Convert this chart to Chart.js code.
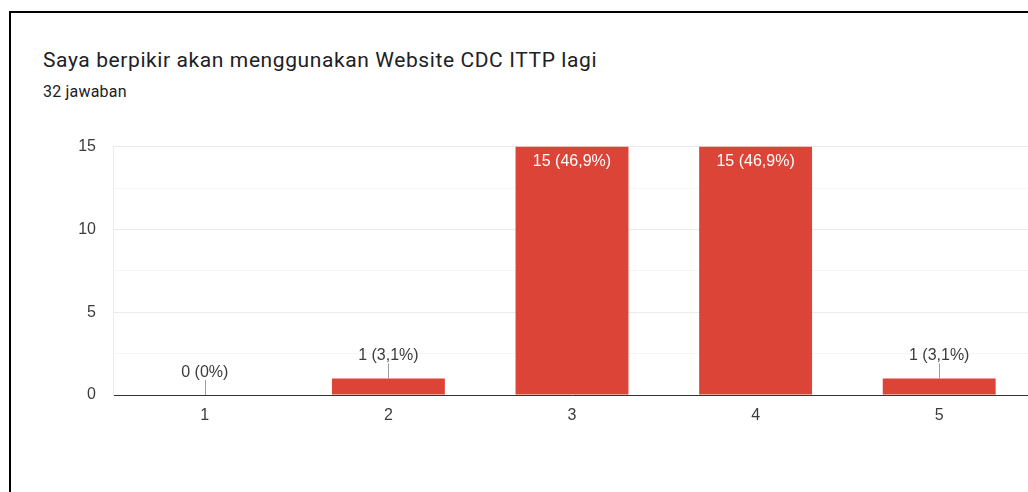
<!DOCTYPE html>
<html>
<head>
<meta charset="utf-8">
<script src="https://cdn.jsdelivr.net/npm/chart.js@4.4.0/dist/chart.umd.min.js"></script>
<style>
  html, body { margin: 0; padding: 0; background: #fff; width: 1028px; height: 492px; overflow: hidden; }
  #frame { position: absolute; left: 9px; top: 11px; width: 1100px; height: 600px; border: 2px solid #000; box-sizing: border-box; }
  #title { position: absolute; left: 43px; top: 48px; font: 21px Roboto, sans-serif; line-height: 25px; letter-spacing: 0.6px; color: #202124; white-space: nowrap; }
  #subtitle { position: absolute; left: 43px; top: 82px; font: 16px Roboto, sans-serif; line-height: 19px; letter-spacing: 0.2px; color: #202124; white-space: nowrap; }
  #wrap { position: absolute; left: 0; top: 120px; width: 1040px; height: 372px; }
</style>
</head>
<body>
<div id="frame"></div>
<div id="title">Saya berpikir akan menggunakan Website CDC ITTP lagi</div>
<div id="subtitle">32 jawaban</div>
<div id="wrap"><canvas id="chart" width="1040" height="372"></canvas></div>
<script>
// Datos del gráfico
const categorias = ['1', '2', '3', '4', '5'];
const respuestas = [0, 1, 15, 15, 1];
const ticksY = [0, 5, 10, 15];

const total = respuestas.reduce((a, b) => a + b, 0);

// Texto "n (x,y%)" con coma decimal
function etiqueta(v) {
  let pct = Math.round(v / total * 1000) / 10;
  let txt = pct % 1 === 0 ? String(pct) : pct.toFixed(1).replace('.', ',');
  return v + ' (' + txt + '%)';
}

// Plugin para dibujar las etiquetas de cada barra
const etiquetasBarras = {
  id: 'etiquetasBarras',
  afterDatasetsDraw(chart) {
    const ctx = chart.ctx;
    const meta = chart.getDatasetMeta(0);
    ctx.save();
    ctx.font = '16px "Liberation Sans", Arial, sans-serif';
    ctx.textAlign = 'center';
    ctx.textBaseline = 'alphabetic';
    meta.data.forEach((bar, i) => {
      const txt = etiqueta(respuestas[i]);
      const alto = bar.base - bar.y;
      if (alto > 40) {
        ctx.fillStyle = '#ffffff';
        ctx.fillText(txt, bar.x, bar.y + 19);
      } else {
        ctx.strokeStyle = '#9e9e9e';
        ctx.lineWidth = 1;
        ctx.beginPath();
        ctx.moveTo(Math.round(bar.x) + 0.5, bar.y);
        ctx.lineTo(Math.round(bar.x) + 0.5, bar.y - 15);
        ctx.stroke();
        ctx.fillStyle = '#3c3c3c';
        ctx.fillText(txt, bar.x, bar.y - 18);
      }
    });
    ctx.restore();
  }
};

new Chart(document.getElementById('chart'), {
  type: 'bar',
  data: {
    labels: categorias,
    datasets: [{
      data: respuestas,
      backgroundColor: '#db4437',
      borderWidth: 0,
      categoryPercentage: 1,
      barPercentage: 0.615
    }]
  },
  plugins: [etiquetasBarras],
  options: {
    responsive: false,
    animation: false,
    devicePixelRatio: 1,
    layout: { padding: { left: 0, right: 9, top: 25, bottom: 0 } },
    plugins: {
      legend: { display: false },
      tooltip: { enabled: false }
    },
    scales: {
      x: {
        grid: { display: false, drawTicks: false },
        border: { color: '#333333', width: 1 },
        ticks: {
          color: '#3c3c3c',
          padding: 11,
          font: { family: '"Liberation Sans", Arial, sans-serif', size: 16 }
        },
        afterFit(scale) { scale.height = 97; }
      },
      y: {
        min: 0,
        max: 15,
        grid: {
          drawTicks: false,
          color: ctx => (ctx.tick && ctx.tick.value % 5 === 0) ? '#ebebeb' : '#f5f5f5'
        },
        border: { display: true, color: '#ebebeb' },
        ticks: {
          stepSize: 2.5,
          padding: 17,
          color: '#3c3c3c',
          font: { family: '"Liberation Sans", Arial, sans-serif', size: 16 },
          callback: v => ticksY.includes(v) ? String(v) : ''
        },
        afterFit(scale) { scale.width = 113; }
      }
    }
  }
});
</script>
</body>
</html>
